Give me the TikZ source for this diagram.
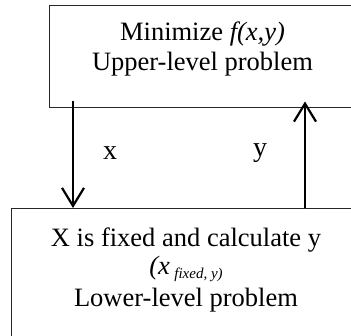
\documentclass[tikz,border=0pt]{standalone}
\usepackage{fontspec}
\setmainfont{Liberation Serif}
\usetikzlibrary{arrows.meta, positioning, calc}

\begin{document}
\begin{tikzpicture}[
        x=1pt, y=-1pt,
        level/.style={rectangle, draw=black!85, line width=1pt, align=center, font=\fontsize{26.5}{30}\selectfont},
        varlabel/.style={font=\fontsize{28}{28}\selectfont, inner sep=0pt},
        line/.style={draw, line width=2.2pt, -{Straight Barb[length=18pt, width=22pt, line width=2.2pt]}}
    ]
        \clip (0,0) rectangle (351,335);

        % ================= UPPER LEVEL =================
        \node[level, minimum width=307pt, minimum height=102pt, text height=49pt, text depth=21pt] (upper) at (202.5, 56) {Minimize \textit{f(x,y)}\\Upper-level problem};

        % ================= LOWER LEVEL =================
        \node[level, minimum width=350pt, minimum height=128pt, text height=81pt, text depth=14pt] (lower) at (186, 272.5) {X is fixed and calculate y\\[-2pt]{\itshape (x}\,\raisebox{-4pt}{\fontsize{15}{15}\selectfont\itshape fixed, y)}\\[2pt]Lower-level problem};

        % ================= EXCHANGE =================
        \coordinate (xcol) at (73, 0);
        \coordinate (ycol) at (305, 0);

        \path[line] ($(upper.south -| xcol)+(0,-7)$) -- (lower.north -| xcol);
        \path[line] (lower.north -| ycol) -- ($(upper.south -| ycol)+(0,-6)$);

        \node[varlabel] (xval) at (110, 153) {x};
        \node[varlabel] (yval) at (260, 153) {y};

    \end{tikzpicture}
\end{document}
